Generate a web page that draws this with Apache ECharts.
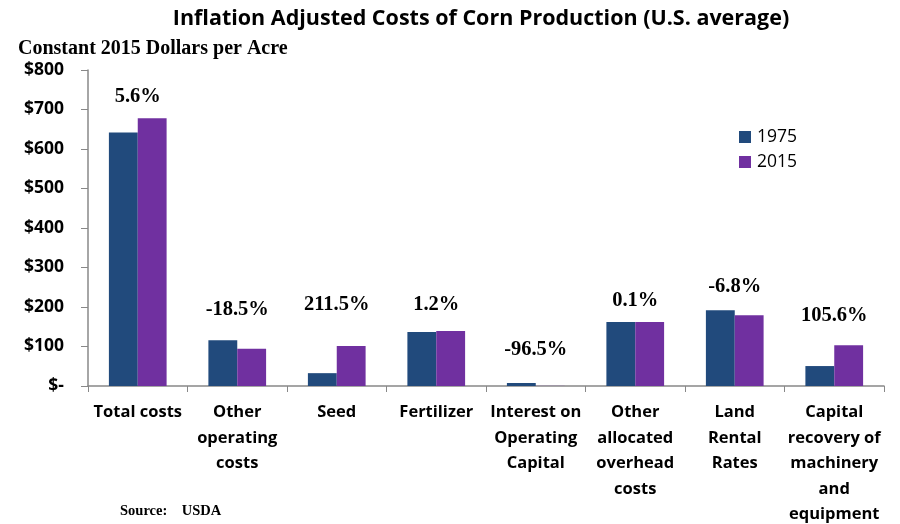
<!DOCTYPE html>
<html>
<head>
<meta charset="utf-8">
<script src="https://cdn.jsdelivr.net/npm/echarts@6/dist/echarts.min.js"></script>
<style>
  body { margin: 0; background: #fff; }
  #main { width: 900px; height: 524px; }
</style>
</head>
<body>
<div id="main"></div>
<script>
// categories (line breaks as in the picture)
const categories = [
  'Total costs',
  'Other\noperating\ncosts',
  'Seed',
  'Fertilizer',
  'Interest on\nOperating\nCapital',
  'Other\nallocated\noverhead\ncosts',
  'Land\nRental\nRates',
  'Capital\nrecovery of\nmachinery\nand\nequipment'
]
const values1975 = [642, 116, 32.5, 137, 7.6, 162, 192, 50.5]
const values2015 = [678, 94.5, 101, 139, 0.3, 162, 179, 103]
// percent change labels and the height (in dollars) where they sit
const changeLabels = ['5.6%', '-18.5%', '211.5%', '1.2%', '-96.5%', '0.1%', '-6.8%', '105.6%']
const labelHeights = [732, 192, 205, 205, 91, 217, 252, 179]
const yTicks = { min: 0, max: 800, interval: 100 }

let myChart = echarts.init(document.getElementById('main'))
let option = {
  animation: false,
  title: [
    {
      text: 'Inflation Adjusted Costs of Corn Production (U.S. average)',
      left: 476, top: 3, textAlign: 'center',
      textStyle: { fontFamily: 'Open Sans', fontWeight: 'bold', fontSize: 21.5, color: '#000' }
    },
    {
      text: 'Constant 2015 Dollars per Acre',
      left: 13, top: 34,
      textStyle: { fontFamily: 'Liberation Serif', fontWeight: 'bold', fontSize: 20, color: '#000' }
    },
    {
      text: 'Source:    USDA',
      left: 115, top: 499,
      textStyle: { fontFamily: 'Liberation Serif', fontWeight: 'bold', fontSize: 14.5, color: '#000' }
    }
  ],
  legend: {
    orient: 'vertical',
    left: 734, top: 123,
    itemWidth: 12, itemHeight: 12, itemGap: 7,
    icon: 'rect',
    data: ['1975', '2015'],
    textStyle: { fontFamily: 'Open Sans', fontSize: 17.5, color: '#000', padding: [0, 0, 0, 1] }
  },
  grid: { left: 88, right: 16, top: 70, bottom: 138, outerBoundsMode: 'none' },
  xAxis: {
    type: 'category',
    data: categories,
    axisLine: { lineStyle: { color: '#888', width: 1.5 } },
    axisTick: { show: true, length: 6, lineStyle: { color: '#888' } },
    axisLabel: {
      interval: 0, margin: 14,
      fontFamily: 'Open Sans', fontWeight: 'bold', fontSize: 16.5, color: '#000', lineHeight: 25.5
    }
  },
  yAxis: {
    type: 'value',
    min: yTicks.min, max: yTicks.max, interval: yTicks.interval,
    splitLine: { show: false },
    axisLine: { show: true, lineStyle: { color: '#888', width: 1.5 } },
    axisTick: { show: true, length: 7, lineStyle: { color: '#888' } },
    axisLabel: {
      margin: 24,
      fontFamily: 'Open Sans', fontWeight: 'bold', fontSize: 17.5, color: '#000',
      formatter: v => v === 0 ? '$-' : '$' + v
    }
  },
  series: [
    {
      name: '1975', type: 'bar', data: values1975,
      barGap: '0%', barCategoryGap: '42%',
      itemStyle: { color: '#214A7C' }
    },
    {
      name: '2015', type: 'bar', data: values2015,
      itemStyle: { color: '#7030A0' }
    },
    {
      name: 'change', type: 'scatter', symbolSize: 0,
      data: labelHeights.map((h, i) => ({ value: [i, h], name: changeLabels[i] })),
      label: {
        show: true, position: 'inside',
        formatter: p => p.name,
        fontFamily: 'Liberation Serif', fontWeight: 'bold', fontSize: 20.5,
        color: '#000', textBorderWidth: 0
      },
      itemStyle: { opacity: 1 },
      silent: true
    }
  ]
}
myChart.setOption(option)
</script>
</body>
</html>
